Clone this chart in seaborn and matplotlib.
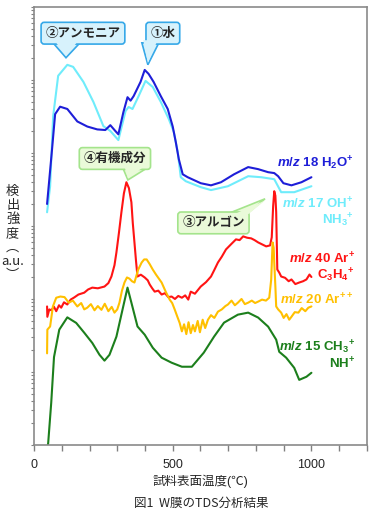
import numpy as np
import pandas as pd
import matplotlib
matplotlib.use("Agg")
import matplotlib.pyplot as plt
from matplotlib.patches import Polygon
from matplotlib.ticker import LogLocator, NullFormatter
import seaborn as sns

# readings taken from the TDS spectrum (temperature in degC, intensity a.u.)
h2o_t = [47, 65, 76, 94, 120, 156, 192, 228, 257, 275, 293, 304, 322, 337, 348, 359, 384, 399, 413, 431,
         457, 482, 500, 511, 522, 536, 554, 601, 638, 674, 721, 772, 808, 844, 866, 880, 899, 928, 964, 1000]
h2o_v = [2.0e3, 1.13e4, 3.4e4, 4.3e4, 4.0e4, 2.7e4, 2.3e4, 2.1e4, 2.06e4, 2.4e4, 2.0e4, 1.8e4, 3.6e4, 5.8e4,
         5.2e4, 6.0e4, 9.4e4, 1.37e5, 1.21e5, 9.4e4, 6.0e4, 4.0e4, 2.3e4, 1.41e4, 8.2e3, 5.1e3, 4.65e3, 3.85e3,
         3.6e3, 3.97e3, 5.1e3, 6.4e3, 6.0e3, 5.45e3, 5.3e3, 4.8e3, 3.85e3, 3.6e3, 3.97e3, 4.65e3]

oh_t = [47, 58, 69, 87, 120, 141, 178, 214, 250, 275, 304, 330, 341, 355, 377, 402, 428, 457, 486, 504,
        518, 529, 547, 601, 638, 699, 772, 819, 866, 891, 938, 1000]
oh_v = [1.54e3, 3.5e3, 3.2e4, 1.14e5, 1.61e5, 1.51e5, 9.4e4, 5.0e4, 2.33e4, 2.0e4, 1.5e4, 3.75e4, 4.26e4,
        4.0e4, 6.0e4, 9.7e4, 8.0e4, 5.0e4, 2.9e4, 1.93e4, 1.03e4, 4.65e3, 4.1e3, 3.4e3, 3.1e3, 3.5e3, 4.8e3,
        4.65e3, 4.37e3, 2.9e3, 2.9e3, 3.5e3]

ar_t = [47, 48, 55, 62, 72, 80, 90, 98, 108, 120, 132, 145, 160, 181, 195, 210, 230, 254, 268, 279, 290, 297,
        306, 315, 324, 333, 342, 351, 356, 362, 368, 373, 385, 399, 410, 417, 426, 435, 448, 460, 472, 484, 496,
        508, 520, 533, 545, 556, 565, 580, 601, 620, 638, 650, 663, 677, 692, 710, 728, 741, 754, 768, 783, 795,
        808, 822, 837, 851, 857, 862, 866, 870, 873, 877, 884, 891, 905, 918, 928, 942, 956, 970, 982, 993, 1000]
ar_v = [79, 57, 72, 70, 78, 68, 82, 76, 90, 84, 98, 105, 115, 122, 135, 143, 140, 148, 165, 203, 290, 434,
        800, 1540, 2800, 3970, 3300, 2110, 1100, 595, 320, 203, 215, 197, 180, 158, 140, 126, 130, 115, 120, 106,
        108, 100, 110, 104, 112, 98, 126, 118, 148, 170, 203, 250, 316, 380, 477, 560, 655, 640, 720, 690, 676,
        640, 595, 560, 525, 542, 700, 1860, 2990, 2600, 1540, 253, 230, 203, 195, 175, 185, 160, 168, 175, 185,
        216, 200]

ar2_t = [47, 48, 58, 68, 80, 95, 110, 125, 140, 156, 170, 181, 192, 205, 218, 230, 243, 255, 268, 280, 290, 300,
         308, 317, 326, 335, 344, 353, 362, 375, 388, 397, 406, 417, 428, 440, 450, 460, 475, 489, 498, 507, 516,
         525, 533, 541, 549, 557, 565, 573, 580, 590, 598, 608, 617, 627, 638, 650, 663, 677, 690, 699, 712, 724,
         735, 748, 760, 772, 785, 797, 808, 822, 836, 848, 855, 860, 864, 866, 870, 873, 880, 891, 900, 910, 920,
         928, 940, 953, 965, 978, 989, 1000]
ar2_v = [18, 38, 42, 79, 104, 108, 106, 89, 95, 79, 88, 72, 76, 85, 70, 80, 71, 86, 68, 78, 65, 72, 89, 130,
         168, 197, 190, 175, 168, 250, 316, 348, 348, 300, 253, 215, 190, 168, 125, 98, 88, 72, 58, 47, 36, 45,
         33, 48, 34, 44, 36, 50, 35, 52, 40, 52, 60, 55, 67, 72, 80, 84, 95, 82, 89, 100, 85, 89, 95, 88, 92, 98,
         95, 104, 185, 595, 500, 316, 150, 79, 72, 65, 55, 62, 52, 57, 66, 65, 75, 68, 76, 79]

ch3_t = [46, 51, 62, 72, 91, 120, 152, 181, 210, 236, 254, 272, 297, 319, 337, 351, 373, 399, 428, 460, 496,
         533, 569, 612, 649, 685, 735, 772, 808, 844, 873, 884, 909, 938, 956, 982, 1000]
ch3_v = [0.8, 1.06, 3.8, 16, 38, 56, 47, 34.5, 25, 17.2, 14.3, 17.2, 30.5, 71.5, 143, 89, 42, 32.4, 21.5, 15.7,
         13.4, 11.8, 11.8, 18.4, 30.5, 47.4, 61, 65, 55.6, 41.8, 27.7, 18.9, 15.7, 11.4, 7.8, 8.6, 9.75]

series_names = ["18", "17", "40", "20", "15"]
series_colors = ["#1e1ed8", "#6fecfb", "#ff1414", "#ffc000", "#1c7f1c"]
series_labels = [r"$\it{m/z}$ 18 $\mathrm{H_2O^{+}}$",
                 r"$\it{m/z}$ 17 $\mathrm{OH^{+}}$" + "\n" + r"$\mathrm{NH_3{}^{+}}$",
                 r"$\it{m/z}$ 40 $\mathrm{Ar^{+}}$" + "\n" + r"$\mathrm{C_3H_4{}^{+}}$",
                 r"$\it{m/z}$ 20 $\mathrm{Ar^{++}}$",
                 r"$\it{m/z}$ 15 $\mathrm{CH_3{}^{+}}$" + "\n" + r"$\mathrm{NH^{+}}$"]
label_pos = [(0.96, 0.642), (0.96, 0.53), (0.963, 0.405), (0.96, 0.33), (0.965, 0.205)]

callouts = ["②アンモニア", "①水", "④有機成分", "③アルゴン"]
callout_box = [(0.147, 0.94), (0.387, 0.94), (0.243, 0.654), (0.539, 0.507)]
callout_base = [((0.057, 0.918), (0.138, 0.918)), ((0.324, 0.918), (0.375, 0.918)),
                ((0.267, 0.632), (0.339, 0.632)), ((0.589, 0.530), (0.643, 0.530))]
callout_tip = [(0.096, 0.884), (0.342, 0.868), (0.282, 0.605), (0.694, 0.562)]
callout_fc = ["#d7f2fc", "#d7f2fc", "#eafad9", "#eafad9"]
callout_ec = ["#35a8e8", "#35a8e8", "#a4e48c", "#a4e48c"]

frames = []
for name, t, v in [("17", oh_t, oh_v), ("18", h2o_t, h2o_v), ("40", ar_t, ar_v),
                   ("20", ar2_t, ar2_v), ("15", ch3_t, ch3_v)]:
    frames.append(pd.DataFrame({"temp": t, "val": v, "mz": name}))
df = pd.concat(frames, ignore_index=True)

sns.set_style("white")
plt.rcParams["font.family"] = ["Liberation Sans", "Noto Sans CJK JP", "DejaVu Sans"]
plt.rcParams["mathtext.fontset"] = "custom"
plt.rcParams["mathtext.rm"] = "Liberation Sans:bold"
plt.rcParams["mathtext.it"] = "Liberation Sans:italic:bold"
plt.rcParams["mathtext.bf"] = "Liberation Sans:bold"

fig = plt.figure(figsize=(3.74, 5.16), dpi=100)
ax = fig.add_axes([0.091, 0.1376, 0.890, 0.849])

pal = dict(zip(series_names, series_colors))
sns.lineplot(data=df, x="temp", y="val", hue="mz", hue_order=["17", "18", "40", "20", "15"],
             palette=pal, estimator=None, sort=False, lw=1.5, legend=False, ax=ax)

ax.set_yscale("log")
ax.set_xlim(0, 1200)
ax.set_ylim(1, 1e6)
ax.yaxis.set_major_locator(LogLocator(base=10, numticks=20))
ax.yaxis.set_minor_locator(LogLocator(base=10, subs=np.arange(2, 10), numticks=20))
ax.yaxis.set_minor_formatter(NullFormatter())
ax.set_xticks(np.arange(0, 1201, 100))
ax.set_xticklabels(["0" if t == 0 else str(t) if t in (500, 1000) else "" for t in range(0, 1201, 100)],
                   fontsize=9)
ax.tick_params(axis="x", bottom=True, direction="out", length=4, width=1, color="#808080", pad=6)
ax.tick_params(axis="y", which="both", left=True, direction="out", length=2, width=0.8, color="#808080",
               labelleft=False)
for s in ax.spines.values():
    s.set_color("#8a8a8a")
    s.set_linewidth(1.2)
ax.set_xlabel("試料表面温度(℃)", fontsize=9, labelpad=3)
ax.set_ylabel("")

for lab, c, (px, py) in zip(series_labels, series_colors, label_pos):
    ax.text(px, py, lab, transform=ax.transAxes, color=c, fontsize=9.5, fontweight="bold",
            ha="right", va="center", multialignment="right", linespacing=1.05)

for txt, bpos, base, tip, fc, ec in zip(callouts, callout_box, callout_base, callout_tip, callout_fc, callout_ec):
    (x0, y0), (x1, y1) = base
    ax.add_patch(Polygon([(x0, y0), tip, (x1, y1)], closed=True, transform=ax.transAxes,
                         fc=fc, ec=ec, lw=1.2, zorder=4, clip_on=False))
    ax.text(bpos[0], bpos[1], txt, transform=ax.transAxes, ha="center", va="center", fontsize=9,
            fontweight="bold", family=["Noto Sans CJK JP", "DejaVu Sans"], zorder=5,
            bbox=dict(boxstyle="round,pad=0.35,rounding_size=0.25", fc=fc, ec=ec, lw=1.2))
    dy = 0.006 if y0 > tip[1] else -0.006
    ax.add_patch(Polygon([(x0 + 0.004, y0 + dy), (tip[0], tip[1] + (0.004 if dy > 0 else -0.004)),
                          (x1 - 0.004, y1 + dy)], closed=True, transform=ax.transAxes,
                         fc=fc, ec="none", zorder=6, clip_on=False))

fig.text(0.034, 0.548, "検\n出\n強\n度\n︵\na.u.\n︶", ha="center", va="center", fontsize=9.5,
         family=["Noto Sans CJK JP", "DejaVu Sans"], linespacing=1.1)
fig.text(0.537, 0.025, "図1  W膜のTDS分析結果", ha="center", va="center", fontsize=9,
         family=["Noto Sans CJK JP", "DejaVu Sans"])

fig.savefig("out.png", dpi=100)
